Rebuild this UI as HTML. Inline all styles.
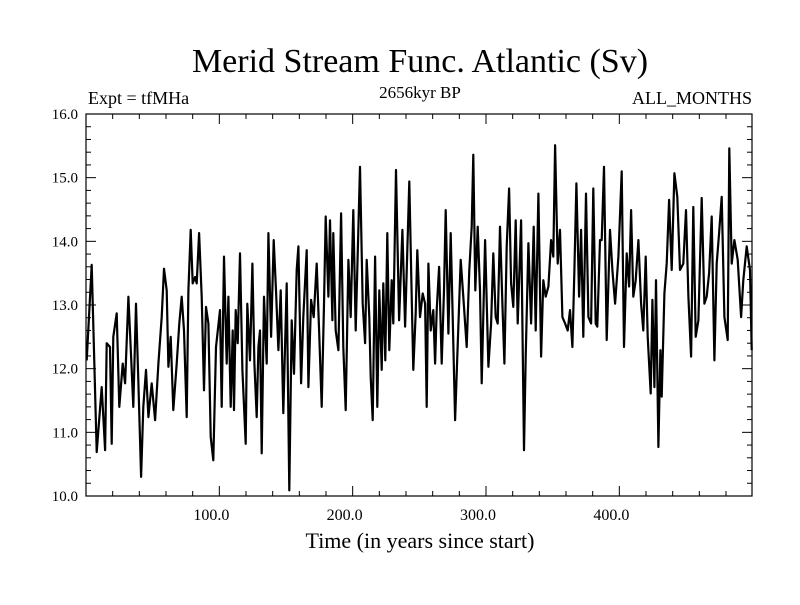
<!DOCTYPE html>
<html><head><meta charset="utf-8"><style>
body{margin:0;background:#fff}
svg text{font-family:"Liberation Serif",serif;fill:#000}
</style></head><body>
<svg id="chart" width="800" height="600" viewBox="0 0 800 600">
<text x="420" y="72" font-size="34" text-anchor="middle">Merid Stream Func. Atlantic (Sv)</text>
<text x="88" y="104" font-size="18">Expt = tfMHa</text>
<text x="420" y="98" font-size="17" text-anchor="middle">2656kyr BP</text>
<text x="752" y="104" font-size="18" text-anchor="end">ALL_MONTHS</text>
<text x="420" y="548" font-size="22" text-anchor="middle">Time (in years since start)</text>
<g id="axes"></g>
<path id="series" fill="none" stroke="#000" stroke-width="2.2" stroke-linejoin="round"/>
<rect x="86" y="114" width="666" height="382" fill="none" stroke="#000" stroke-width="1.2"/>
</svg>
<script>
const years=[0.5,4.3,8,11.8,14.3,15.5,18,19.3,20.5,23,25,27.5,29.3,31.8,34.3,35.5,37.5,39.3,41.3,43,45,46.8,49.3,51.8,54.3,56.8,58.5,60.5,61.8,63.5,65.5,68,70,71.8,73.5,75.5,76.8,78.5,80,81.8,83,84.8,86.8,88.5,90,91.8,93.5,95.5,97.5,
100.5,101.8,103.5,105.5,106.8,108.5,110,111,112.3,113.8,115.5,117.3,119.8,121,123,124.8,126.3,128,129.3,130.5,131.8,133.5,135.5,136.8,138.8,140.8,142.5,144.3,146,148,150.5,152.5,154.3,156,158,159.3,161.3,163,165.5,166.8,168.8,170.8,173,174.8,176.8,178.5,179.8,181.8,183,184.8,185.5,187.3,189.3,191.3,193,194.8,196.8,198.5,200.5,
202.3,205.5,207.5,209.3,210.5,212.5,213.5,215,216.8,218.5,220,221.8,223,224.5,226,227.5,229.3,230.5,232.5,234.8,237.3,239.3,242.5,244.3,245.5,247.3,248.5,250.5,252.5,254.3,255.5,256.8,258.5,260.5,261.8,263,264.8,266.8,268.5,269.8,271.8,273.5,275,276.8,278.5,281,283,285.5,287.5,289.3,290.5,292,293.8,295.5,296.8,299.3,
301.8,303.8,305.5,307.3,308.8,310.5,312.3,313.8,315.5,317.3,318.8,320.5,322.3,323.8,326.3,328.5,329.8,331.8,333.8,335.8,337.3,339.3,341.3,343,344.8,346.8,348.8,350.5,351.8,353.8,355.5,357.3,359.3,361.3,363,364.8,366.3,367.8,369.8,371.3,373,375,376.8,378.8,380.5,382.3,383.5,385.5,386.8,388.5,390.5,393,394.8,396.8,399.3,401.8,403.5,
405.5,407.3,408.8,410.5,412.3,414.3,416.3,418,419.8,421.3,423.5,424.8,426.3,427.5,429.3,430.8,431.8,433.8,435.5,437.3,439.3,441.3,443.5,445.5,448,450,451.8,453.8,455.5,457.3,459.3,461.8,463.8,465.5,467.3,469.3,471.3,473,474.8,476.8,478.8,481.3,482.5,484.3,486.3,488.8,491.3,493,495.5,498,499.3];
const values=[12.13,13.63,10.69,11.71,10.72,12.4,12.34,10.82,12.5,12.87,11.4,12.08,11.77,13.13,11.98,11.4,13.02,11.77,10.3,11.4,11.98,11.24,11.77,11.19,12.08,12.81,13.57,13.23,12.03,12.5,11.35,12.08,12.71,13.13,12.6,11.24,13.23,14.18,13.34,13.44,13.34,14.13,13.13,11.66,12.97,12.71,10.93,10.56,12.34,
12.92,11.4,13.76,12.08,13.13,11.4,12.6,11.35,12.92,12.4,13.81,11.98,10.82,13.02,12.13,13.65,12.08,11.24,12.34,12.6,10.67,13.13,12.08,14.13,12.5,14.02,13.23,12.29,13.23,11.3,13.34,10.09,12.76,11.92,13.55,13.92,11.77,12.81,13.86,11.71,13.08,12.81,13.65,12.6,11.4,13.02,14.39,13.13,14.33,12.76,14.13,12.6,12.29,14.44,12.34,11.35,13.71,12.81,14.49,
12.6,15.17,13.02,12.4,13.71,12.81,11.87,11.19,13.76,11.4,13.23,11.98,13.34,12.13,14.13,12.29,13.39,12.71,15.12,12.76,14.18,12.66,14.94,13.13,11.98,12.87,13.86,12.81,13.18,13.02,11.4,13.65,12.6,12.92,12.08,12.92,13.6,12.08,13.23,14.49,12.55,14.13,12.81,11.19,12.19,13.71,13.13,12.34,13.55,14.23,15.36,13.23,14.23,13.23,11.77,14.02,
12.03,12.71,13.81,12.81,12.71,14.23,13.02,12.08,13.92,14.83,13.34,12.97,14.33,12.71,14.33,10.72,12.19,13.97,12.71,14.23,12.6,14.75,12.19,13.39,13.13,13.29,14.02,13.76,15.51,13.65,14.18,12.81,12.71,12.6,12.92,12.34,13.55,14.91,13.13,14.18,12.5,14.75,12.81,12.71,14.83,12.71,12.66,14.02,14.02,15.17,12.45,14.18,13.55,13.02,13.76,15.1,12.34,
13.81,13.29,14.49,13.13,13.39,14.02,13.02,12.6,13.76,12.5,11.61,13.08,11.71,13.39,10.77,12.29,11.56,13.18,13.65,14.65,13.55,15.07,14.7,13.55,13.65,14.49,13.13,12.19,14.54,12.5,12.76,14.68,13.02,13.13,13.5,14.39,12.13,13.65,14.13,14.7,12.81,12.45,15.46,13.65,14.02,13.71,12.81,13.39,13.92,13.55,12.29];
const yTicks=[10,11,12,13,14,15,16];
const xTicks=[100,200,300,400];
const X0=86,X1=752,Y0=114,Y1=496,xMin=0,xMax=499.5,yMin=10,yMax=16;
const sx=v=>X0+(v-xMin)/(xMax-xMin)*(X1-X0);
const sy=v=>Y1-(v-yMin)/(yMax-yMin)*(Y1-Y0);
const NS="http://www.w3.org/2000/svg";
const axes=document.getElementById('axes');
function ln(x1,y1,x2,y2,name){const l=document.createElementNS(NS,'line');l.setAttribute('x1',x1);l.setAttribute('y1',y1);l.setAttribute('x2',x2);l.setAttribute('y2',y2);l.setAttribute('stroke','#000');l.setAttribute('stroke-width','1');


axes.appendChild(l);}
for(let k=0;k<=30;k++){const v=yMin+k*0.2;const y=sy(v);const major=k%5===0;const L=major?10:5;ln(X0,y,X0+L,y,'y-tick');ln(X1,y,X1-L,y,'y-tick');}
for(let v=20;v<xMax;v+=20){const x=sx(v);const major=v%100===0;const L=major?10:5;ln(x,Y1,x,Y1-L,'x-tick');ln(x,Y0,x,Y0+L,'x-tick');}
yTicks.forEach(v=>{const t=document.createElementNS(NS,'text');t.setAttribute('x',78);t.setAttribute('y',sy(v)+5);t.setAttribute('font-size','15');t.setAttribute('text-anchor','end');t.textContent=v.toFixed(1);


axes.appendChild(t);});
xTicks.forEach(v=>{const t=document.createElementNS(NS,'text');t.setAttribute('x',sx(v)-8);t.setAttribute('y',520);t.setAttribute('font-size','16');t.setAttribute('text-anchor','middle');t.textContent=v.toFixed(1);


axes.appendChild(t);});
document.getElementById('series').setAttribute('d',years.map((yr,i)=>(i?'L':'M')+sx(yr).toFixed(1)+','+sy(values[i]).toFixed(1)).join(''));
</script>
</body></html>
